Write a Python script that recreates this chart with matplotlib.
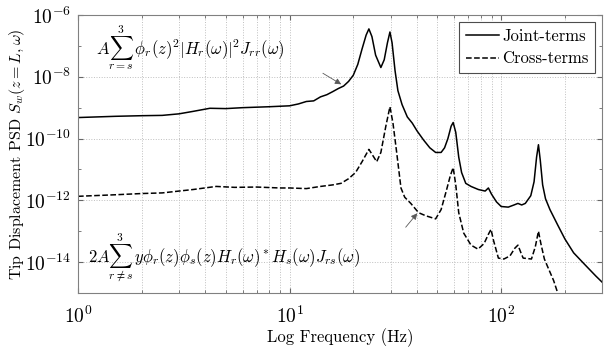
import matplotlib
matplotlib.use("Agg")
import matplotlib.pyplot as plt
import numpy as np
from matplotlib.ticker import LogLocator, NullFormatter

plt.rcParams['font.family'] = 'serif'
plt.rcParams['font.serif'] = ['cmr10', 'DejaVu Serif']
plt.rcParams['mathtext.fontset'] = 'cm'
plt.rcParams['axes.formatter.use_mathtext'] = True

# joint-terms PSD (log10 values)
joint_f = [1.0, 1.5, 2.0, 2.5, 3.0, 3.5, 4.2, 5, 6, 8, 10, 11, 12, 13, 14, 15, 16, 17, 18, 19,
           20, 21, 22, 23, 23.7, 24.5, 25.5, 27, 28, 29, 29.8, 30.5, 31.5, 32.5, 34, 36, 38, 40,
           43, 46, 49, 52, 54, 56, 58, 59.3, 61, 63, 65, 68, 72, 78, 84, 87, 90, 95, 100, 108,
           115, 120, 125, 130, 138, 143, 147, 150, 153, 157, 162, 170, 185, 200, 220, 250, 280, 300]
joint_log = [-9.32, -9.28, -9.26, -9.25, -9.2, -9.12, -9.02, -9.03, -9.0, -8.97, -8.94, -8.88,
             -8.8, -8.78, -8.65, -8.58, -8.48, -8.38, -8.3, -8.15, -7.95, -7.6, -7.1, -6.65,
             -6.45, -6.7, -7.3, -7.7, -7.45, -6.9, -6.55, -6.9, -7.8, -8.45, -8.9, -9.3, -9.5,
             -9.75, -10.05, -10.3, -10.45, -10.45, -10.3, -10.0, -9.6, -9.48, -9.8, -10.6,
             -11.1, -11.45, -11.55, -11.65, -11.7, -11.6, -11.8, -12.05, -12.2, -12.22,
             -12.15, -12.1, -12.15, -12.1, -11.85, -11.4, -10.6, -10.2, -10.7, -11.5, -11.95,
             -12.3, -12.8, -13.25, -13.7, -14.1, -14.45, -14.65]

# cross-terms PSD
cross_f = [1, 1.5, 2, 2.5, 3, 3.5, 4.5, 5.5, 7, 9, 10, 12, 14, 16, 17.5, 19, 20.5, 22, 23.7,
           25, 25.8, 27, 28.5, 29.8, 30.8, 32, 33.6, 35, 37.4, 40.7, 44, 49, 52, 55, 57.5,
           59.3, 61, 63, 66.5, 72, 77.7, 83, 87, 89.5, 92, 97, 103, 110, 116, 120, 124, 127,
           139, 145, 150, 154, 160, 167, 177, 186]
cross_log = [-11.87, -11.82, -11.78, -11.76, -11.7, -11.65, -11.55, -11.58, -11.57, -11.6,
             -11.6, -11.62, -11.55, -11.5, -11.45, -11.3, -11.1, -10.75, -10.35, -10.6,
             -10.75, -10.45, -9.6, -8.97, -9.5, -10.4, -11.6, -11.9, -12.1, -12.4, -12.5,
             -12.6, -12.3, -11.7, -11.2, -10.94, -11.5, -12.4, -13.06, -13.45, -13.58, -13.4,
             -13.1, -12.94, -13.3, -13.87, -13.9, -13.8, -13.55, -13.45, -13.7, -13.87, -13.9,
             -13.5, -13.0, -13.4, -13.9, -14.2, -14.6, -15.05]

fig = plt.figure(figsize=(6.07, 3.53), dpi=100)
ax = fig.add_axes([0.1285, 0.17, 0.8635, 0.7875])

ax.loglog(joint_f, 10.0 ** np.array(joint_log), 'k-', lw=1.1, label='Joint-terms')
ax.loglog(cross_f, 10.0 ** np.array(cross_log), 'k--', lw=1.1, label='Cross-terms')

ax.set_xlim(1, 300)
ax.set_ylim(1e-15, 1e-6)
ax.set_yticks([1e-14, 1e-12, 1e-10, 1e-8, 1e-6])
ax.yaxis.set_minor_locator(LogLocator(base=10, subs=(1.0,), numticks=20))
ax.yaxis.set_minor_formatter(NullFormatter())
ax.xaxis.set_minor_locator(LogLocator(base=10, subs=np.arange(2, 10), numticks=20))
ax.xaxis.set_minor_formatter(NullFormatter())

ax.grid(True, which='major', ls=':', color='0.75', lw=0.7)
ax.grid(True, which='minor', axis='x', ls=':', color='0.75', lw=0.7)
ax.tick_params(which='both', direction='in', top=True, right=True, labelsize=14,
               color='0.4')
ax.tick_params(axis='x', pad=9)
ax.tick_params(axis='y', pad=5)
for s in ax.spines.values():
    s.set_color('0.5')

ax.set_xlabel('Log Frequency (Hz)', fontsize=12, labelpad=1)
ax.set_ylabel(r'Tip Displacement PSD $S_w(z=L,\omega)$', fontsize=11.5)
ax.yaxis.set_label_coords(-0.097, 0.5)

ax.text(1.22, 10 ** -7.06,
        r'$A\sum_{r=s}^{3}\,\phi_r(z)^2|H_r(\omega)|^2J_{rr}(\omega)$',
        fontsize=12, va='center', ha='left')
ax.text(1.115, 10 ** -13.87,
        r'$2A\sum_{r\neq s}^{3}\,y\phi_r(z)\phi_s(z)H_r(\omega)^*H_s(\omega)J_{rs}(\omega)$',
        fontsize=12, va='center', ha='left')

arrow = dict(arrowstyle='-|>', color='0.35', lw=0.6, mutation_scale=9)
ax.annotate('', xy=(18.0, 10 ** -8.29), xytext=(14.0, 10 ** -7.84), arrowprops=arrow)
ax.annotate('', xy=(40.9, 10 ** -12.35), xytext=(34.7, 10 ** -12.94), arrowprops=arrow)

leg = ax.legend(loc='upper right', fontsize=12, fancybox=False, framealpha=1,
                handlelength=2.0, handletextpad=0.2, borderpad=0.4, labelspacing=0.45,
                borderaxespad=0.4)
leg.get_frame().set_edgecolor('0.3')
leg.get_frame().set_linewidth(0.8)

fig.savefig('out.png', dpi=100)
